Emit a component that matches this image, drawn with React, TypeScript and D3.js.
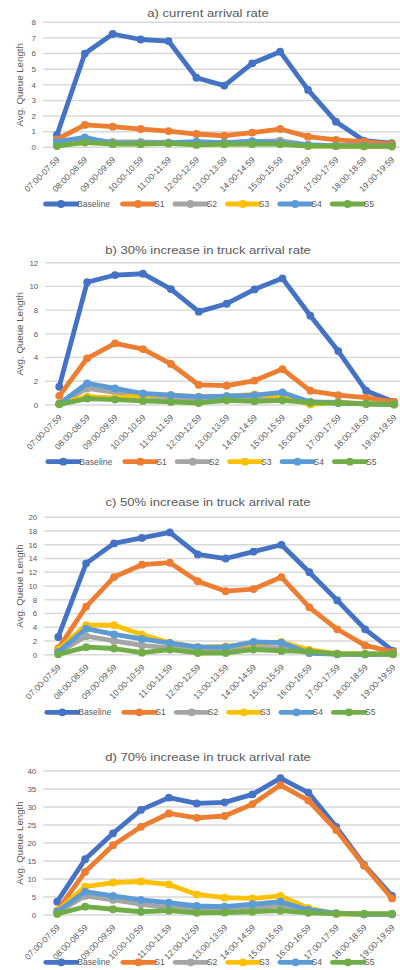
import React from 'react';
import * as d3 from 'd3';

const hours = [
  '07:00-07:59', '08:00-08:59', '09:00-09:59', '10:00-10:59', '11:00-11:59',
  '12:00-12:59', '13:00-13:59', '14:00-14:59', '15:00-15:59', '16:00-16:59',
  '17:00-17:59', '18:00-18:59', '19:00-19:59',
];
const seriesNames = ['Baseline', 'S1', 'S2', 'S3', 'S4', 'S5'];
const seriesColors = ['#4472C4', '#ED7D31', '#A5A5A5', '#FFC000', '#5B9BD5', '#70AD47'];

// a) current arrival rate
const aBaseline = [0.79, 6.0, 7.25, 6.9, 6.8, 4.45, 3.95, 5.37, 6.12, 3.67, 1.64, 0.43, 0.26];
const aS1 = [0.5, 1.43, 1.32, 1.17, 1.04, 0.85, 0.74, 0.94, 1.17, 0.68, 0.47, 0.36, 0.21];
const aS2 = [0.2, 0.5, 0.35, 0.35, 0.3, 0.3, 0.3, 0.35, 0.43, 0.15, 0.1, 0.08, 0.05];
const aS3 = [0.15, 0.3, 0.25, 0.25, 0.25, 0.2, 0.2, 0.25, 0.25, 0.1, 0.08, 0.05, 0.05];
const aS4 = [0.36, 0.64, 0.26, 0.26, 0.3, 0.36, 0.3, 0.4, 0.3, 0.15, 0.1, 0.1, 0.08];
const aS5 = [0.08, 0.32, 0.2, 0.2, 0.25, 0.15, 0.2, 0.2, 0.2, 0.08, 0.08, 0.08, 0.08];

// b) 30% increase
const bBaseline = [1.54, 10.35, 10.96, 11.07, 9.78, 7.87, 8.54, 9.75, 10.68, 7.53, 4.55, 1.2, 0.26];
const bS1 = [0.77, 3.94, 5.2, 4.72, 3.46, 1.69, 1.63, 2.06, 3.03, 1.2, 0.83, 0.63, 0.26];
const bS2 = [0.1, 1.4, 1.06, 0.74, 0.63, 0.55, 0.6, 0.65, 0.75, 0.25, 0.25, 0.1, 0.05];
const bS3 = [0.15, 0.7, 0.6, 0.8, 0.85, 0.7, 0.75, 0.9, 0.7, 0.05, 0.2, 0.1, 0.05];
const bS4 = [0.1, 1.83, 1.4, 0.97, 0.83, 0.69, 0.74, 0.83, 1.06, 0.26, 0.17, 0.1, 0.06];
const bS5 = [0.06, 0.54, 0.46, 0.34, 0.26, 0.17, 0.4, 0.31, 0.4, 0.2, 0.17, 0.1, 0.06];

// c) 50% increase
const cBaseline = [2.58, 13.3, 16.2, 17.0, 17.8, 14.6, 14.0, 15.0, 16.0, 12.0, 7.9, 3.7, 0.55];
const cS1 = [0.9, 7.0, 11.3, 13.1, 13.4, 10.7, 9.25, 9.55, 11.3, 6.9, 3.7, 1.35, 0.4];
const cS2 = [0.3, 2.7, 2.0, 1.35, 1.0, 0.7, 0.7, 1.1, 1.0, 0.25, 0.15, 0.05, 0.05];
const cS3 = [0.75, 4.3, 4.3, 2.95, 1.75, 1.1, 1.2, 1.6, 1.85, 0.7, 0.15, 0.1, 0.1];
const cS4 = [0.4, 3.8, 2.95, 2.3, 1.7, 1.1, 1.1, 1.85, 1.75, 0.25, 0.05, 0.05, 0.1];
const cS5 = [0.05, 1.1, 0.9, 0.3, 0.75, 0.25, 0.25, 0.75, 0.55, 0.5, 0.1, 0.1, 0.1];

// d) 70% increase
const dBaseline = [3.7, 15.5, 22.7, 29.2, 32.6, 31.0, 31.3, 33.5, 38.0, 34.0, 24.5, 13.9, 5.3];
const dS1 = [1.2, 12.0, 19.4, 24.5, 28.2, 27.0, 27.5, 30.8, 36.1, 31.8, 23.6, 13.7, 4.6];
const dS2 = [0.7, 5.3, 4.2, 3.0, 2.0, 1.7, 1.7, 1.9, 2.6, 0.9, 0.3, 0.2, 0.2];
const dS3 = [1.1, 7.9, 9.0, 9.3, 8.5, 5.7, 4.8, 4.6, 5.3, 1.9, 0.3, 0.2, 0.2];
const dS4 = [0.9, 6.5, 5.3, 4.2, 3.4, 2.5, 2.3, 3.0, 3.7, 1.4, 0.5, 0.2, 0.2];
const dS5 = [0.3, 2.3, 1.6, 0.9, 1.2, 0.6, 0.7, 0.9, 1.2, 0.6, 0.4, 0.4, 0.4];

const titles = [
  'a) current arrival rate',
  'b) 30% increase in truck arrival rate',
  'c) 50% increase in truck arrival rate',
  'd) 70% increase in truck arrival rate',
];
const yMax = [8, 12, 20, 40];
const yStep = [1, 2, 2, 5];

const panelSeries = [
  [aBaseline, aS1, aS2, aS3, aS4, aS5],
  [bBaseline, bS1, bS2, bS3, bS4, bS5],
  [cBaseline, cS1, cS2, cS3, cS4, cS5],
  [dBaseline, dS1, dS2, dS3, dS4, dS5],
];

// layout of each panel on the page
const layout = [
  { titleY: 14, top: 22.3, bottom: 147.3, x0: 43, legendY: 204 },
  { titleY: 251, top: 262.7, bottom: 405, x0: 45.3, legendY: 461.7 },
  { titleY: 503, top: 517.3, bottom: 654.7, x0: 44.3, legendY: 712.3 },
  { titleY: 758.3, top: 771, bottom: 915, x0: 43.3, legendY: 962.3 },
];

const FONT = '"Liberation Sans", Arial, sans-serif';
const TEXT = '#595959';
const BAND = 27.9;

const Panel = ({ idx }: { idx: number }) => {
  const L = layout[idx];
  const x = d3.scaleBand().domain(hours).range([L.x0, L.x0 + BAND * hours.length]).padding(0);
  const y = d3.scaleLinear().domain([0, yMax[idx]]).range([L.bottom, L.top]);
  const ticks = d3.range(0, yMax[idx] + yStep[idx] / 2, yStep[idx]);
  const cx = (h: string) => (x(h) as number) + x.bandwidth() / 2;
  const line = d3
    .line<number>()
    .x((d, i) => cx(hours[i]))
    .y(d => y(d));
  const legendX = (i: number) => L.x0 + 2.5 + (i === 0 ? 0 : 77 + (i - 1) * 52.4);

  return (
    <g>
      <text
        transform={`translate(208,${L.titleY}) scale(1.19,1)`}
        textAnchor="middle"
        dominantBaseline="middle"
        fontSize={11}
        fill={TEXT}
        fontFamily={FONT}
      >
        {titles[idx]}
      </text>
      {ticks.map(t => (
        <g key={t}>
          <line x1={L.x0} x2={L.x0 + BAND * hours.length} y1={y(t)} y2={y(t)} stroke="#D9D9D9" strokeWidth={1.4} />
          <text x={L.x0 - 7} y={y(t)} dy="0.35em" textAnchor="end" fontSize={8} fill={TEXT} fontFamily={FONT}>
            {t}
          </text>
        </g>
      ))}
      <text
        transform={`translate(20,${(L.top + L.bottom) / 2}) rotate(-90)`}
        textAnchor="middle"
        dominantBaseline="middle"
        fontSize={9.7}
        fill={TEXT}
        fontFamily={FONT}
      >
        Avg. Queue Length
      </text>
      {hours.map(h => (
        <text
          key={h}
          transform={`translate(${cx(h) + 1},${L.bottom + 11}) rotate(-45)`}
          textAnchor="end"
          dy="0.35em"
          fontSize={8.5}
          fill={TEXT}
          fontFamily={FONT}
        >
          {h}
        </text>
      ))}
      {panelSeries[idx].map((vals, s) => (
        <g key={s}>
          <path d={line(vals) || ''} fill="none" stroke={seriesColors[s]} strokeWidth={4.8} strokeLinejoin="round" strokeLinecap="round" />
          {vals.map((v, i) => (
            <circle key={i} cx={cx(hours[i])} cy={y(v)} r={3.9} fill={seriesColors[s]} />
          ))}
        </g>
      ))}
      {seriesNames.map((n, s) => (
        <g key={n} transform={`translate(${legendX(s)},${L.legendY})`}>
          <line x1={0} x2={31} y1={0} y2={0} stroke={seriesColors[s]} strokeWidth={4.8} strokeLinecap="round" />
          <circle cx={15.5} cy={0} r={3.9} fill={seriesColors[s]} />
          <text x={31.5} y={0} dy="0.35em" fontSize={8.6} fill={TEXT} fontFamily={FONT}>
            {n}
          </text>
        </g>
      ))}
    </g>
  );
};

export default function App() {
  return (
    <svg
      width={400}
      height={970}
      style={{ position: 'absolute', left: 0, top: 0, background: '#fff' }}
    >
      <rect width={400} height={970} fill="#fff" />
      {layout.map((_, i) => (
        <Panel key={i} idx={i} />
      ))}
    </svg>
  );
}
